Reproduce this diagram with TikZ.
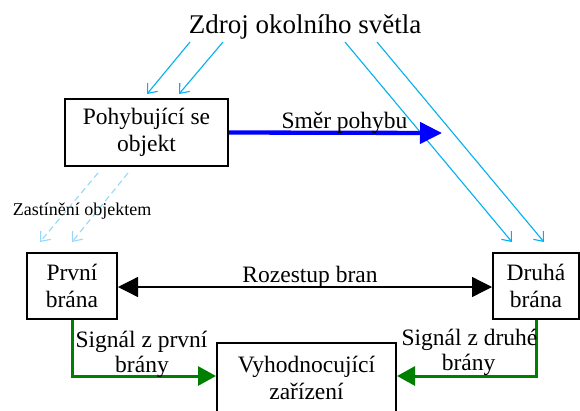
\documentclass[tikz,border=0pt]{standalone}
\usepackage{fontspec}
\setmainfont{Liberation Serif}
\usetikzlibrary{arrows.meta}
\definecolor{lightray}{RGB}{0,176,240}
\definecolor{shadowray}{RGB}{150,215,245}
\definecolor{sigGreen}{RGB}{0,128,0}
\begin{document}
\begin{tikzpicture}[x=1pt,y=-1pt,
  box/.style={draw=black,line width=2pt,align=center,inner sep=0pt,
    font=\fontsize{23.5}{27}\selectfont},
  lbl/.style={anchor=base,inner sep=0pt,font=\fontsize{23.5}{27}\selectfont},
  ray/.style={draw=lightray,line width=1.1pt,-{Straight Barb[length=8pt,width=13pt]}},
  shade/.style={draw=shadowray,line width=1.1pt,dashed,dash pattern=on 6pt off 4pt,-{Straight Barb[length=8pt,width=13pt]}},
  sig/.style={draw=sigGreen,line width=3pt,-{Triangle[length=18pt,width=19pt]}}
]
\useasboundingbox (0,0) rectangle (580,410);

\node[lbl,font=\fontsize{27}{30}\selectfont] (title) at (305,33) {Zdroj okolního světla};

\node[box,minimum width=163pt,minimum height=67pt] (obj) at (146.5,132.5) {Pohybující se\\objekt};
\node[box,minimum width=90pt,minimum height=66pt] (g1) at (72,286) {První\\brána};
\node[box,minimum width=86pt,minimum height=66pt] (g2) at (536,286) {Druhá\\brána};
\node[box,minimum width=179pt,minimum height=70pt] (eval) at (306.5,378) {Vyhodnocující\\zařízení};

% light rays
\coordinate (r1s) at (190,42); \coordinate (r1e) at (147,94);
\coordinate (r2s) at (223,42); \coordinate (r2e) at (179,94);
\coordinate (r3s) at (345,42); \coordinate (r3e) at (512,242);
\coordinate (r4s) at (377,42); \coordinate (r4e) at (544,242);
\draw[ray] (r1s) -- (r1e);
\draw[ray] (r2s) -- (r2e);
\draw[ray] (r3s) -- (r3e);
\draw[ray] (r4s) -- (r4e);

% shadow rays
\coordinate (s1s) at (98,173); \coordinate (s1e) at (40,242);
\coordinate (s2s) at (128,173); \coordinate (s2e) at (72,242);
\draw[shade] (s1s) -- (s1e);
\draw[shade] (s2s) -- (s2e);
\node[lbl,font=\fontsize{18}{20}\selectfont] (shlbl) at (82,215) {Zastínění objektem};

% motion
\coordinate (mtip) at (442,133);
\draw[draw=blue,line width=4.3pt,-{Triangle[length=22pt,width=21pt]}] (obj.east) -- (mtip);
\node[lbl] (mlbl) at (344.5,128) {Směr pohybu};

% gate spacing
\draw[line width=1.3pt,{Triangle[length=20pt,width=20pt]}-{Triangle[length=20pt,width=20pt]}] ([yshift=-1pt]g1.east) -- ([yshift=-1pt]g2.west);
\node[lbl] (sp) at (310,282) {Rozestup bran};

% signals
\draw[sig] (g1.south) |- ([yshift=2pt]eval.west);
\draw[sig] (g2.south) |- ([yshift=2pt]eval.east);
\node[lbl] (s1a) at (141.5,347) {Signál z první};
\node[lbl] (s1b) at (142,372) {brány};
\node[lbl] (s2a) at (469.5,345) {Signál z druhé};
\node[lbl] (s2b) at (468.5,370) {brány};
\end{tikzpicture}
\end{document}
